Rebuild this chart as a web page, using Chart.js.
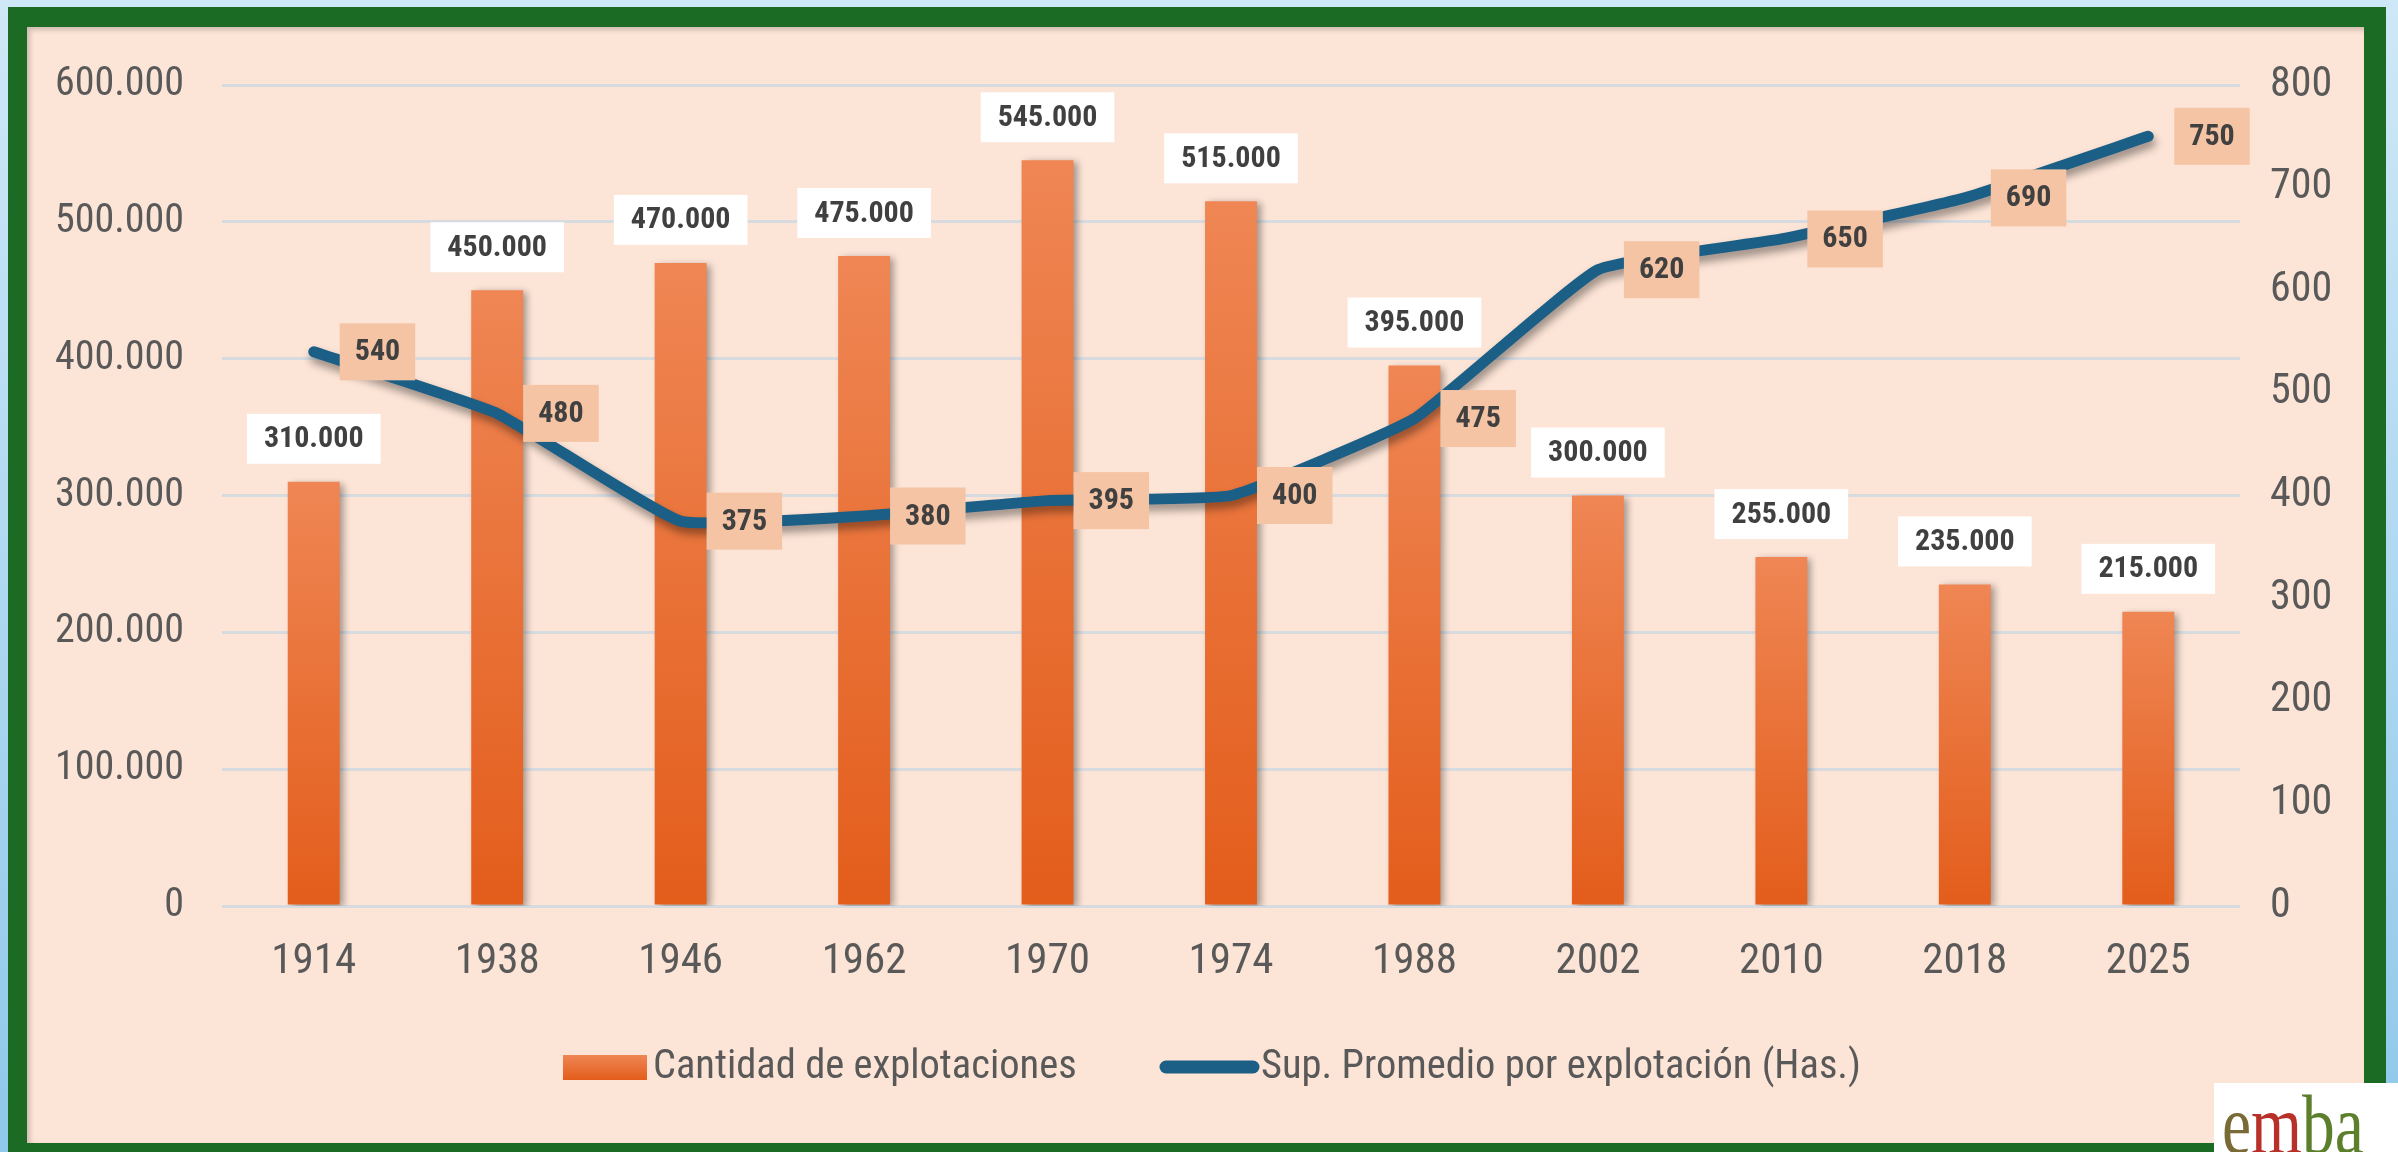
<!DOCTYPE html>
<html>
<head>
<meta charset="utf-8">
<script src="https://cdn.jsdelivr.net/npm/chart.js@4.4.1/dist/chart.umd.min.js"></script>
<style>
  html, body { margin: 0; padding: 0; }
  body {
    width: 2398px; height: 1152px; overflow: hidden; position: relative;
    background: linear-gradient(#cfe8f7, #8fc8ea);
  }
  .frame {
    position: absolute; left: 8px; top: 7px; width: 2378px; height: 1160px;
    background: #1b6b25;
  }
  .panel {
    position: absolute; left: 27px; top: 27px; width: 2337px; height: 1116px;
    background: #fce4d6;
    box-shadow: inset 3px 3px 5px rgba(0, 0, 0, 0.18);
  }
  canvas { position: absolute; left: 0; top: 0; }
  .logo {
    position: absolute; left: 2214px; top: 1083px; width: 184px; height: 80px;
    background: #fff; overflow: hidden;
    font-family: "Liberation Serif", serif; font-size: 84px; line-height: 84px;
  }
  .logo span.w { display: inline-block; transform: scaleX(0.78); transform-origin: left top; margin-left: 8px; margin-top: -6px; }
</style>
</head>
<body>
<div class="frame"></div>
<div class="panel"></div>
<canvas id="chart" width="2398" height="1152"></canvas>
<div class="logo"><span class="w"><span style="color:#7a6a35">e</span><span style="color:#b8302a">m</span><span style="color:#5b7f2b">ba</span></span></div>

<script>
// Datos del gráfico
const years = ['1914', '1938', '1946', '1962', '1970', '1974', '1988', '2002', '2010', '2018', '2025'];
const explotaciones = [310000, 450000, 470000, 475000, 545000, 515000, 395000, 300000, 255000, 235000, 215000];
const supPromedio = [540, 480, 375, 380, 395, 400, 475, 620, 650, 690, 750];
const barLabel = 'Cantidad de explotaciones';
const lineLabel = 'Sup. Promedio por explotación (Has.)';

const FONT = '"Liberation Sans Narrow", "Arial Narrow", "Roboto Condensed", "DejaVu Sans Condensed", sans-serif';
const TICK_COLOR = '#595959';
const LINE_COLOR = '#1b5e86';
const BAR_TOP = '#ef8654';
const BAR_BOTTOM = '#e35d1b';

function fmt(v) {
    return String(v).replace(/\B(?=(\d{3})+(?!\d))/g, '.');
}

function barGradient(ctx, top, bottom) {
    const g = ctx.createLinearGradient(0, top, 0, bottom);
    g.addColorStop(0, BAR_TOP);
    g.addColorStop(1, BAR_BOTTOM);
    return g;
}

// sombras para barras y línea
const shadowPlugin = {
    id: 'shadows',
    beforeDatasetDraw(chart, args) {
        const ctx = chart.ctx;
        ctx.save();
        if (args.meta.type === 'bar') {
            ctx.shadowColor = 'rgba(0,0,0,0.35)';
            ctx.shadowBlur = 7;
            ctx.shadowOffsetX = 4;
            ctx.shadowOffsetY = 2;
        } else {
            ctx.shadowColor = 'rgba(0,0,0,0.4)';
            ctx.shadowBlur = 8;
            ctx.shadowOffsetX = 2;
            ctx.shadowOffsetY = 6;
        }
    },
    afterDatasetDraw(chart) {
        chart.ctx.restore();
    }
};

// etiquetas de datos
const labelPlugin = {
    id: 'valueLabels',
    afterDatasetsDraw(chart) {
        const ctx = chart.ctx;
        ctx.save();
        ctx.font = 'bold 30px ' + FONT;
        ctx.textAlign = 'center';
        ctx.textBaseline = 'middle';

        const barMeta = chart.getDatasetMeta(1);
        barMeta.data.forEach((bar, i) => {
            const txt = fmt(explotaciones[i]);
            const w = ctx.measureText(txt).width + 34;
            const h = 50;
            const bottom = bar.y - 18;
            ctx.fillStyle = '#ffffff';
            ctx.fillRect(bar.x - w / 2, bottom - h, w, h);
            ctx.fillStyle = '#404040';
            ctx.fillText(txt, bar.x, bottom - h / 2 + 1);
        });

        const lineMeta = chart.getDatasetMeta(0);
        lineMeta.data.forEach((pt, i) => {
            const txt = String(supPromedio[i]);
            const w = ctx.measureText(txt).width + 30;
            const h = 57;
            const left = pt.x + 26;
            ctx.fillStyle = '#f5c4a4';
            ctx.fillRect(left, pt.y - h / 2, w, h);
            ctx.fillStyle = '#404040';
            ctx.fillText(txt, left + w / 2, pt.y + 1);
        });
        ctx.restore();
    }
};

// leyenda inferior
const legendPlugin = {
    id: 'bottomLegend',
    afterDraw(chart) {
        const ctx = chart.ctx;
        const cy = 1067;
        ctx.save();
        ctx.fillStyle = barGradient(ctx, cy - 12, cy + 13);
        ctx.fillRect(563, cy - 12, 84, 25);
        ctx.font = '40.5px ' + FONT;
        ctx.fillStyle = TICK_COLOR;
        ctx.textBaseline = 'middle';
        ctx.textAlign = 'left';
        ctx.fillText(barLabel, 653, cy + 1);

        ctx.strokeStyle = LINE_COLOR;
        ctx.lineWidth = 13;
        ctx.lineCap = 'round';
        ctx.beginPath();
        ctx.moveTo(1166, cy);
        ctx.lineTo(1253, cy);
        ctx.stroke();
        ctx.fillText(lineLabel, 1261, cy + 1);
        ctx.restore();
    }
};

const ctx = document.getElementById('chart').getContext('2d');
new Chart(ctx, {
    data: {
        labels: years,
        datasets: [
            {
                type: 'line',
                label: lineLabel,
                data: supPromedio,
                yAxisID: 'y1',
                borderColor: LINE_COLOR,
                borderWidth: 11,
                borderCapStyle: 'round',
                borderJoinStyle: 'round',
                pointRadius: 0,
                tension: 0.12,
                order: 0
            },
            {
                type: 'bar',
                label: barLabel,
                data: explotaciones,
                yAxisID: 'y',
                backgroundColor: function(context) {
                    const chart = context.chart;
                    if (!chart.chartArea || context.type !== 'data') return BAR_BOTTOM;
                    const y = chart.scales.y;
                    return barGradient(chart.ctx, y.getPixelForValue(context.raw), y.getPixelForValue(0));
                },
                borderWidth: 0,
                barPercentage: 0.283,
                categoryPercentage: 1.0,
                order: 1
            }
        ]
    },
    options: {
        responsive: false,
        devicePixelRatio: 1,
        animation: false,
        layout: { padding: { top: 85, left: 0, right: 0, bottom: 0 } },
        plugins: {
            legend: { display: false },
            tooltip: { enabled: false }
        },
        scales: {
            x: {
                type: 'category',
                offset: true,
                grid: { display: false, drawTicks: false },
                border: { display: false },
                ticks: { color: TICK_COLOR, font: { family: FONT, size: 43 }, padding: 30, maxRotation: 0 },
                afterFit(scale) { scale.height = 1152 - 906; }
            },
            y: {
                position: 'left',
                min: 0,
                max: 600000,
                grid: { color: '#d7dbe0', lineWidth: 3, drawTicks: false },
                border: { display: false },
                ticks: {
                    stepSize: 100000,
                    color: TICK_COLOR,
                    font: { family: FONT, size: 40 },
                    padding: 38,
                    callback: v => fmt(v)
                },
                afterFit(scale) { scale.width = 222; }
            },
            y1: {
                position: 'right',
                min: 0,
                max: 800,
                grid: { display: false, drawTicks: false },
                border: { display: false },
                ticks: {
                    stepSize: 100,
                    color: TICK_COLOR,
                    font: { family: FONT, size: 42 },
                    padding: 30
                },
                afterFit(scale) { scale.width = 2398 - 2240; }
            }
        }
    },
    plugins: [shadowPlugin, labelPlugin, legendPlugin]
});
</script>
</body>
</html>
